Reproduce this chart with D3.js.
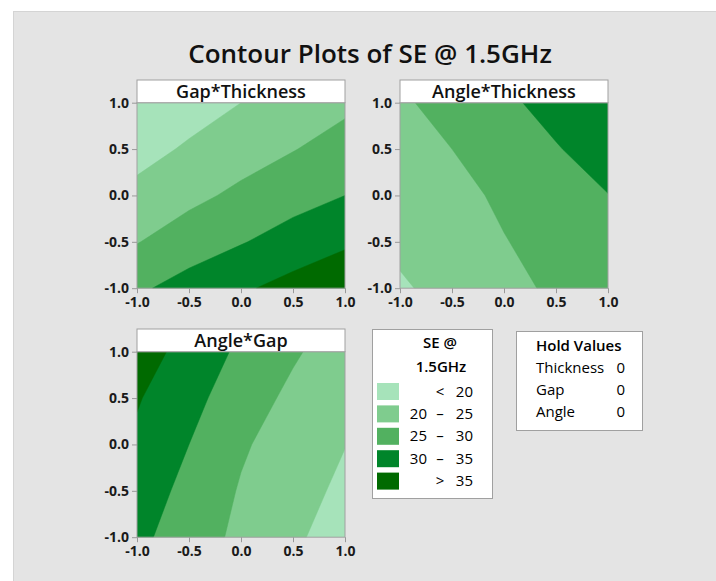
<!DOCTYPE html>
<html>
<head>
<meta charset="utf-8">
<script src="https://cdn.jsdelivr.net/npm/d3@7"></script>
<style>
body { margin: 0; background: #fff; }
</style>
</head>
<body>
<script>
// contour levels and fill colours (light -> dark)
let levels = [20, 25, 30, 35];
let colors = ["#a6e3ba", "#7fcc8e", "#52b160", "#00852a", "#006a00"];

// axis ticks, and where the grid values sit on each axis
let tickVals = [-1, -0.5, 0, 0.5, 1];
let gridPts = [-1, -0.5, 0, 0.5, 1];

// SE values, rows from top (1.0) to bottom (-1.0), columns -1.0 .. 1.0
let gapThickness = [
	[15.5, 17.9, 20.0, 22.2, 24.0],
	[18.3, 20.6, 22.9, 24.8, 26.9],
	[21.3, 23.8, 26.0, 28.2, 30.0],
	[24.8, 27.5, 29.7, 32.0, 34.2],
	[29.2, 31.9, 34.3, 36.7, 38.9]
];
let angleThickness = [
	[24.3, 26.7, 29.1, 31.6, 34.1],
	[22.7, 25.0, 27.3, 29.7, 32.1],
	[21.4, 23.6, 25.8, 28.0, 29.9],
	[21.0, 22.9, 24.8, 26.7, 28.7],
	[19.4, 21.6, 23.8, 25.7, 27.5]
];
let angleGap = [
	[37.5, 33.1, 29.1, 25.6, 22.5],
	[35.4, 31.5, 27.4, 23.9, 21.1],
	[34.1, 30.0, 25.6, 22.7, 20.1],
	[32.6, 28.6, 24.6, 21.8, 19.0],
	[31.2, 27.4, 23.9, 20.8, 17.7]
];
let panelTitles = ["Gap*Thickness", "Angle*Thickness", "Angle*Gap"];

let holdNames = ["Thickness", "Gap", "Angle"];
let holdVals = [0, 0, 0];

let font = "'Open Sans', 'Noto Sans', sans-serif";

let svg = d3.select("body").append("svg")
	.attr("width", 716)
	.attr("height", 581)
	.attr("font-family", font);

//grey background panel
svg.append("rect")
	.attr("x", 13.5).attr("y", 11.5)
	.attr("width", 710).attr("height", 580)
	.attr("fill", "#e4e4e4")
	.attr("stroke", "#d4d4d4");

svg.append("text")
	.attr("x", 370).attr("y", 63)
	.attr("text-anchor", "middle")
	.attr("font-size", 26)
	.attr("font-weight", 600)
	.attr("fill", "#111")
	.text("Contour Plots of SE @ 1.5GHz");

//where each panel's plot area goes
let layout = [
	{left: 137, top: 102.7},
	{left: 400, top: 102.7},
	{left: 137, top: 351.7}
];
let pw = 208, ph = 185.5;
let grids = [gapThickness, angleThickness, angleGap];

grids.forEach((grid, k) => drawPanel(panelTitles[k], grid, layout[k].left, layout[k].top, k));

function drawPanel(title, grid, left, top, k) {
	let g = svg.append("g")
		.attr("transform", `translate(${left}, ${top})`);

	let x = d3.scaleLinear().domain([-1, 1]).range([0, pw]);
	let y = d3.scaleLinear().domain([-1, 1]).range([ph, 0]);

	let n = grid[0].length, m = grid.length;
	//grid coords from d3.contours -> data coords (values sit at cell centres)
	let gx = d3.scaleLinear().domain([0.5, n - 0.5]).range([gridPts[0], gridPts[n - 1]]);
	let gy = d3.scaleLinear().domain([0.5, m - 0.5]).range([gridPts[m - 1], gridPts[0]]);

	let contours = d3.contours()
		.size([n, m])
		.thresholds(levels)(grid.flat());

	let path = d3.geoPath(d3.geoTransform({
		point: function(px, py) { this.stream.point(x(gx(px)), y(gy(py))); }
	}));

	let clipId = "clip" + k;
	g.append("clipPath").attr("id", clipId)
		.append("rect").attr("width", pw).attr("height", ph);

	let body = g.append("g").attr("clip-path", `url(#${clipId})`);
	body.append("rect")
		.attr("width", pw).attr("height", ph)
		.attr("fill", colors[0]);
	body.selectAll("path")
		.data(contours)
		.join("path")
		.attr("d", path)
		.attr("fill", (d, i) => colors[i + 1])
		.attr("stroke", (d, i) => colors[i + 1])
		.attr("stroke-width", 0.5);

	g.append("rect") //plot frame
		.attr("width", pw).attr("height", ph)
		.attr("fill", "none")
		.attr("stroke", "#a0a0a0");

	//header strip
	g.append("rect")
		.attr("y", -22.7).attr("width", pw).attr("height", 22.7)
		.attr("fill", "#fff")
		.attr("stroke", "#a0a0a0");
	g.append("text")
		.attr("x", pw / 2).attr("y", -5)
		.attr("text-anchor", "middle")
		.attr("font-size", 18)
		.attr("font-weight", 600)
		.attr("fill", "#111")
		.text(title);

	let fmt = d => d.toFixed(1);
	let yG = g.append("g")
		.call(d3.axisLeft(y).tickValues(tickVals).tickSize(5).tickPadding(3).tickFormat(fmt));
	let xG = g.append("g")
		.attr("transform", `translate(0, ${ph})`)
		.call(d3.axisBottom(x).tickValues(tickVals).tickSize(5).tickPadding(4).tickFormat(fmt));

	[xG, yG].forEach(a => {
		a.attr("font-family", font);
		a.select(".domain").remove();
		a.selectAll(".tick line").attr("stroke", "#999");
		a.selectAll("text")
			.attr("font-size", 14)
			.attr("font-weight", 700)
			.attr("fill", "#1a1a1a");
	});
}

/*
	LEGEND
*/
let lg = svg.append("g");
lg.append("rect")
	.attr("x", 372.5).attr("y", 329.5)
	.attr("width", 120).attr("height", 169)
	.attr("fill", "#fff")
	.attr("stroke", "#a0a0a0");
lg.append("text")
	.attr("x", 440).attr("y", 348)
	.attr("text-anchor", "middle")
	.attr("font-size", 15).attr("font-weight", 600)
	.text("SE @");
lg.append("text")
	.attr("x", 441).attr("y", 372)
	.attr("text-anchor", "middle")
	.attr("font-size", 15).attr("font-weight", 600)
	.text("1.5GHz");

colors.forEach((c, i) => {
	let sy = 383 + i * 22.4;
	lg.append("rect")
		.attr("x", 377).attr("y", sy)
		.attr("width", 22).attr("height", 17)
		.attr("fill", c);
	let base = sy + 13.5;
	let lo = i > 0 ? levels[i - 1] : null;
	let hi = i < levels.length ? levels[i] : null;
	let sym = lo === null ? "<" : (hi === null ? ">" : "–");
	if (lo !== null && hi !== null) {
		lg.append("text").attr("x", 427).attr("y", base)
			.attr("text-anchor", "end").attr("font-size", 15).attr("font-weight", 500).text(lo);
	}
	lg.append("text").attr("x", 440).attr("y", base)
		.attr("text-anchor", "middle").attr("font-size", 15).attr("font-weight", 500).text(sym);
	lg.append("text").attr("x", 473).attr("y", base)
		.attr("text-anchor", "end").attr("font-size", 15).attr("font-weight", 500).text(hi === null ? lo : hi);
});

/*
	HOLD VALUES
*/
let hg = svg.append("g");
hg.append("rect")
	.attr("x", 516.5).attr("y", 331.5)
	.attr("width", 126).attr("height", 99)
	.attr("fill", "#fff")
	.attr("stroke", "#a0a0a0");
hg.append("text")
	.attr("x", 536).attr("y", 351)
	.attr("font-size", 15).attr("font-weight", 600)
	.text("Hold Values");
holdNames.forEach((name, i) => {
	let base = 373 + i * 22;
	hg.append("text").attr("x", 536).attr("y", base)
		.attr("font-size", 15).attr("font-weight", 500).text(name);
	hg.append("text").attr("x", 625).attr("y", base)
		.attr("text-anchor", "end")
		.attr("font-size", 15).attr("font-weight", 500).text(holdVals[i]);
});
</script>
</body>
</html>
